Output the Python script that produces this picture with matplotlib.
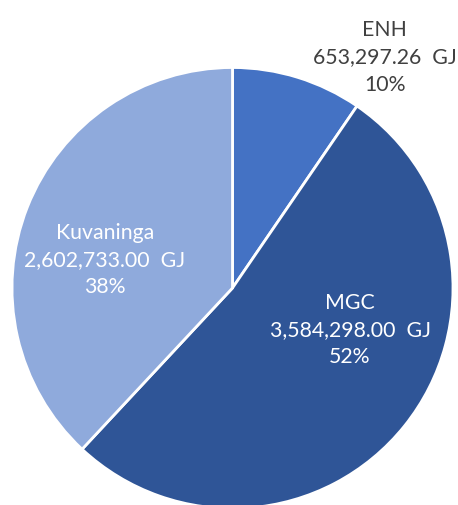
import matplotlib
matplotlib.use('Agg')
import matplotlib.pyplot as plt

# dados do gráfico
nomes = ['ENH', 'MGC', 'Kuvaninga']
valores = [653297.26, 3584298.00, 2602733.00]
cores = ['#4472C4', '#2F5597', '#8FAADC']

plt.rcParams['font.family'] = ['Lato', 'DejaVu Sans']

fig = plt.figure(figsize=(4.58, 5.05), dpi=100)
# eixo posicionado para que o círculo unitário caia no lugar do original
ax = fig.add_axes([12 / 458, -3.5 / 505, 441 / 458, 441 / 505])

wedges, _ = ax.pie(valores, colors=cores, startangle=90, counterclock=False,
                   radius=1, wedgeprops=dict(edgecolor='white', linewidth=2))
ax.set_xlim(-1, 1)
ax.set_ylim(-1, 1)
ax.set_aspect('auto')
ax.axis('off')

total = sum(valores)
posicoes = [(0.69, 1.045), (0.533, -0.19), (-0.578, 0.127)]
cor_texto = ['#404040', 'white', 'white']
for nome, v, (x, y), c in zip(nomes, valores, posicoes, cor_texto):
    pct = round(v / total * 100)
    txt = f'{nome}\n{v:,.2f}  GJ\n{pct}%'
    ax.text(x, y, txt, ha='center', va='center', color=c, fontsize=15.3,
            linespacing=1.45, clip_on=False)

fig.savefig('out.png', dpi=100)
